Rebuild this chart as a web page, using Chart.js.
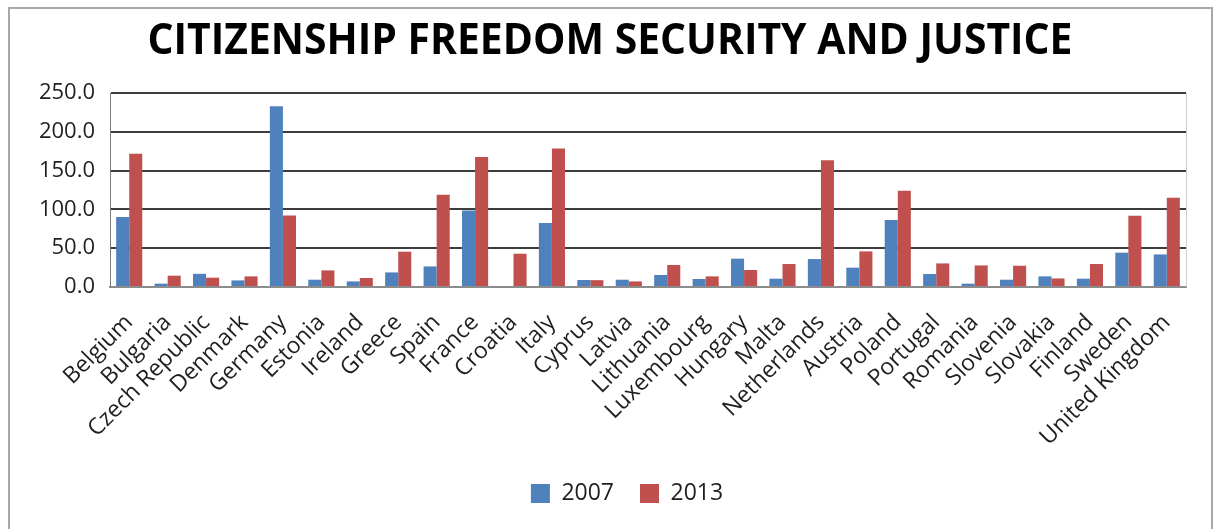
<!DOCTYPE html>
<html>
<head>
<meta charset="utf-8">
<script src="https://cdn.jsdelivr.net/npm/chart.js@4/dist/chart.umd.min.js"></script>
<style>
  html, body { margin: 0; padding: 0; background: #ffffff; }
  #wrap { position: relative; width: 1216px; height: 529px; }
</style>
</head>
<body>
<div id="wrap"><canvas id="c" width="1216" height="529"></canvas></div>
<script>
const chartTitle = 'CITIZENSHIP FREEDOM SECURITY AND JUSTICE';
const categories = ['Belgium', 'Bulgaria', 'Czech Republic', 'Denmark', 'Germany', 'Estonia', 'Ireland', 'Greece', 'Spain', 'France', 'Croatia', 'Italy', 'Cyprus', 'Latvia', 'Lithuania', 'Luxembourg', 'Hungary', 'Malta', 'Netherlands', 'Austria', 'Poland', 'Portugal', 'Romania', 'Slovenia', 'Slovakia', 'Finland', 'Sweden', 'United Kingdom'];
const seriesNames = ['2007', '2013'];
const values2007 = [90.2, 4.3, 17.0, 8.5, 232.8, 9.4, 7.2, 18.8, 26.5, 98.7, 0, 82.5, 9.0, 9.4, 15.5, 10.3, 36.5, 10.7, 36.0, 24.9, 86.3, 16.8, 4.3, 9.4, 13.7, 10.7, 44.2, 42.0];
const values2013 = [171.8, 14.6, 12.0, 13.7, 92.3, 21.4, 11.6, 45.5, 119.0, 167.5, 42.9, 178.6, 8.8, 7.2, 28.4, 13.7, 21.9, 29.6, 163.2, 45.9, 124.1, 30.4, 27.8, 27.4, 11.0, 29.6, 91.9, 115.1];
const yTicks = [0, 50, 100, 150, 200, 250];

const FONT = '"Open Sans", "DejaVu Sans", sans-serif';
const TEXT = '#1f1f1f';

const framePlugin = {
  id: 'frame',
  afterLayout(chart) {
    // legend sits slightly right of the canvas centre in the original
    const lg = chart.legend;
    if (lg) { lg.left += 34; lg.right += 34; }
  },
  beforeDraw(chart) {
    const ctx = chart.ctx;
    ctx.save();
    ctx.strokeStyle = '#a8a8a8';
    ctx.lineWidth = 2;
    ctx.strokeRect(9, 8, 1203, 560);
    ctx.restore();
  },
  afterDraw(chart) {
    const ctx = chart.ctx;
    const a = chart.chartArea;
    ctx.save();
    ctx.strokeStyle = '#d0d0d0';
    ctx.lineWidth = 1;
    ctx.beginPath();
    ctx.moveTo(a.right + 0.5, a.top);
    ctx.lineTo(a.right + 0.5, a.bottom);
    ctx.stroke();
    ctx.font = 'bold 43px ' + FONT;
    ctx.fillStyle = '#000';
    ctx.textBaseline = 'alphabetic';
    ctx.textAlign = 'center';
    const w = ctx.measureText(chartTitle).width;
    const target = 925;
    ctx.translate(610, 54);
    ctx.scale(target / w, 1);
    ctx.fillText(chartTitle, 0, 0);
    ctx.restore();
  }
};

new Chart(document.getElementById('c'), {
  type: 'bar',
  data: {
    labels: categories,
    datasets: [
      { label: seriesNames[0], data: values2007, backgroundColor: '#4F81BD', borderWidth: 0 },
      { label: seriesNames[1], data: values2013, backgroundColor: '#C0504D', borderWidth: 0 }
    ]
  },
  options: {
    responsive: false,
    animation: false,
    devicePixelRatio: 1,
    layout: { padding: { left: 0, right: 30, top: 93, bottom: 14 } },
    datasets: { bar: { categoryPercentage: 0.68, barPercentage: 1.0 } },
    plugins: {
      title: { display: false },
      tooltip: { enabled: false },
      legend: {
        position: 'bottom',
        align: 'center',
        labels: {
          boxWidth: 19, boxHeight: 19, padding: 26,
          color: TEXT,
          font: { family: FONT, size: 23 }
        }
      }
    },
    scales: {
      x: {
        grid: { display: false, drawTicks: false },
        border: { display: true, color: '#8c8c8c', width: 2 },
        ticks: {
          minRotation: 45, maxRotation: 45, autoSkip: false,
          padding: 22,
          color: TEXT,
          font: { family: FONT, size: 23 }
        },
        afterFit(scale) { scale.height = 169; }
      },
      y: {
        min: 0, max: 250,
        afterBuildTicks(scale) { scale.ticks = yTicks.map(v => ({ value: v })); },
        grid: { color: '#3c3c3c', lineWidth: 2, drawTicks: false },
        border: { display: true, color: '#7a7a7a', width: 1 },
        ticks: {
          padding: 15,
          color: TEXT,
          font: { family: FONT, size: 22 },
          callback: v => Number(v).toFixed(1)
        },
        afterFit(scale) { scale.width = 110; }
      }
    }
  },
  plugins: [framePlugin]
});
</script>
</body>
</html>
